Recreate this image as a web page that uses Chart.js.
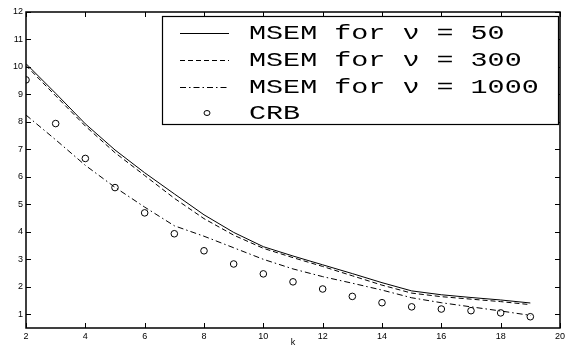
<!DOCTYPE html>
<html>
<head>
<meta charset="utf-8">
<script src="https://cdn.jsdelivr.net/npm/chart.js@4/dist/chart.umd.min.js"></script>
<style>
  html, body { margin: 0; padding: 0; background: #fff; }
  #wrap { width: 568px; height: 347px; }
</style>
</head>
<body>
<div id="wrap"><canvas id="msemChart" width="568" height="347"></canvas></div>
<script>
/* ── Data ── */
const kValues   = [2, 3, 4, 5, 6, 7, 8, 9, 10, 11, 12, 13, 14, 15, 16, 17, 18, 19];
const msem50    = [10.12, 9.04, 7.93, 6.98, 6.15, 5.38, 4.62, 3.98, 3.46, 3.12, 2.80, 2.48, 2.15, 1.85, 1.71, 1.61, 1.52, 1.41];
const msem300   = [10.05, 8.95, 7.85, 6.88, 6.05, 5.22, 4.48, 3.88, 3.40, 3.06, 2.74, 2.40, 2.06, 1.77, 1.64, 1.55, 1.46, 1.35];
const msem1000  = [8.25, 7.35, 6.42, 5.62, 4.90, 4.22, 3.84, 3.42, 3.00, 2.65, 2.37, 2.13, 1.88, 1.60, 1.42, 1.27, 1.12, 0.96];
const crb       = [9.53, 7.94, 6.67, 5.61, 4.69, 3.93, 3.31, 2.83, 2.47, 2.18, 1.92, 1.65, 1.42, 1.27, 1.19, 1.13, 1.05, 0.91];
const xTicks    = [2, 4, 6, 8, 10, 12, 14, 16, 18, 20];
const yTicks    = [1, 2, 3, 4, 5, 6, 7, 8, 9, 10, 11, 12];
const legendLabels = ['MSEM for \u03bd = 50', 'MSEM for \u03bd = 300', 'MSEM for \u03bd = 1000', 'CRB'];

const pts = ys => kValues.map((k, i) => ({ x: k, y: ys[i] }));

const DASH = [5, 3];
const DASHDOT = [6, 3, 1.5, 3];

/* ── Box, inward ticks, x label and legend ── */
const matlabFrame = {
  id: 'matlabFrame',
  afterDraw(chart) {
    const { ctx, chartArea: a, scales: { x, y } } = chart;
    ctx.save();
    ctx.strokeStyle = '#000';
    ctx.lineWidth = 1;
    const tl = 5;
    ctx.beginPath();
    xTicks.forEach(v => {
      const px = Math.round(x.getPixelForValue(v)) + 0.5;
      ctx.moveTo(px, a.bottom); ctx.lineTo(px, a.bottom - tl);
      ctx.moveTo(px, a.top); ctx.lineTo(px, a.top + tl);
    });
    yTicks.forEach(v => {
      const py = Math.round(y.getPixelForValue(v)) + 0.5;
      ctx.moveTo(a.left, py); ctx.lineTo(a.left + tl, py);
      ctx.moveTo(a.right, py); ctx.lineTo(a.right - tl, py);
    });
    ctx.stroke();
    ctx.lineWidth = 1.5;
    ctx.strokeRect(a.left, a.top, a.right - a.left, a.bottom - a.top);

    // x axis label
    ctx.fillStyle = '#000';
    ctx.font = '9px "Liberation Sans", Arial, sans-serif';
    ctx.textAlign = 'center';
    ctx.textBaseline = 'middle';
    ctx.fillText('k', (a.left + a.right) / 2, 343);

    // legend
    const L = { x: 162, y: 16, w: 396, h: 108 };
    ctx.fillStyle = '#fff';
    ctx.fillRect(L.x, L.y, L.w, L.h);
    ctx.lineWidth = 1.2;
    ctx.strokeRect(L.x + 0.5, L.y + 0.5, L.w, L.h);
    const rows = [33, 60, 87, 113];
    const dashes = [[], DASH, DASHDOT];
    ctx.lineWidth = 1;
    dashes.forEach((d, i) => {
      ctx.setLineDash(d);
      ctx.beginPath();
      ctx.moveTo(180, rows[i] + 0.5);
      ctx.lineTo(229, rows[i] + 0.5);
      ctx.stroke();
    });
    ctx.setLineDash([]);
    ctx.beginPath();
    ctx.ellipse(207, rows[3], 3, 2.5, 0, 0, Math.PI * 2);
    ctx.stroke();

    ctx.fillStyle = '#000';
    ctx.font = '20px "Liberation Mono", "Courier New", monospace';
    ctx.textAlign = 'left';
    ctx.textBaseline = 'middle';
    legendLabels.forEach((t, i) => {
      ctx.save();
      ctx.translate(249, rows[i] + 1);
      ctx.scale(1.42, 1);
      ctx.fillText(t, 0, 0);
      ctx.restore();
    });
    ctx.restore();
  }
};

const tickFont = { family: '"Liberation Sans", Arial, sans-serif', size: 9 };

new Chart(document.getElementById('msemChart'), {
  type: 'scatter',
  data: {
    datasets: [
      { label: legendLabels[0], data: pts(msem50), showLine: true, borderColor: '#000', borderWidth: 1, pointRadius: 0 },
      { label: legendLabels[1], data: pts(msem300), showLine: true, borderColor: '#000', borderWidth: 1, borderDash: DASH, pointRadius: 0 },
      { label: legendLabels[2], data: pts(msem1000), showLine: true, borderColor: '#000', borderWidth: 1, borderDash: DASHDOT, pointRadius: 0 },
      { label: legendLabels[3], data: pts(crb), showLine: false, borderColor: '#000', borderWidth: 1,
        backgroundColor: 'rgba(0,0,0,0)', pointStyle: 'circle', pointRadius: 3.3 }
    ]
  },
  options: {
    responsive: false,
    animation: false,
    devicePixelRatio: 1,
    layout: { padding: { top: 12, right: 5, left: 0, bottom: 0 } },
    plugins: { legend: { display: false }, tooltip: { enabled: false } },
    scales: {
      x: {
        type: 'linear', min: 2, max: 20,
        afterBuildTicks: s => { s.ticks = xTicks.map(v => ({ value: v })); },
        afterFit: s => { s.height = 19; },
        grid: { display: false, drawTicks: false },
        border: { display: false },
        ticks: { color: '#000', font: tickFont, padding: 3, maxRotation: 0 }
      },
      y: {
        type: 'linear', min: 0.5, max: 12,
        afterBuildTicks: s => { s.ticks = yTicks.map(v => ({ value: v })); },
        afterFit: s => { s.width = 26; },
        grid: { display: false, drawTicks: false },
        border: { display: false },
        ticks: { color: '#000', font: tickFont, padding: 3 }
      }
    }
  },
  plugins: [matlabFrame]
});
</script>
</body>
</html>
